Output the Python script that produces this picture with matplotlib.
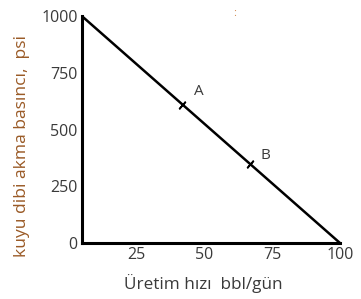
import matplotlib
matplotlib.use("Agg")
import matplotlib.pyplot as plt

# Data
q = [5, 100]          # production rate, bbl/gün
p = [1000, 0]         # bottomhole flowing pressure, psi
point_names = ["A", "B"]
point_q = [42, 67]
x_ticks = [25, 50, 75, 100]
y_ticks = [0, 250, 500, 750, 1000]

def p_at(qq):
    return p[0] + (p[1] - p[0]) * (qq - q[0]) / (q[1] - q[0])

point_p = [p_at(v) for v in point_q]
label_offsets = [(12, 9.5), (11, 6)]   # points

plt.rcParams['font.family'] = ['Open Sans', 'DejaVu Sans']
fig = plt.figure(figsize=(3.61, 2.99), dpi=100)
ax = fig.add_axes([0.227, 0.187, 0.715, 0.759])

ax.plot(q, p, color='black', lw=1.8, solid_capstyle='butt', clip_on=False)
ax.plot(point_q, point_p, linestyle='none', marker=(2, 2, -41), ms=7,
        mew=1.2, color='black', clip_on=False)
for name, qq, pp, off in zip(point_names, point_q, point_p, label_offsets):
    ax.annotate(name, (qq, pp), xytext=off, textcoords='offset points',
                fontsize=11, color='#3b3b3b', ha='center', va='center')

ax.set_xlim(q[0], q[1])
ax.set_ylim(0, 1000)
ax.set_xticks(x_ticks)
ax.set_yticks(y_ticks)
ax.tick_params(length=0, labelsize=11.5, labelcolor='#3a3a3a', pad=3)
for s in ['top', 'right']:
    ax.spines[s].set_visible(False)
for s in ['left', 'bottom']:
    ax.spines[s].set_linewidth(2.2)
    ax.spines[s].set_color('black')

ax.set_xlabel('Üretim hızı  bbl/gün', fontsize=12.3, color='#3a3a3a')
ax.xaxis.set_label_coords(0.47, -0.135)
ax.set_ylabel('kuyu dibi akma basıncı,  psi', fontsize=12.6, color='#9a5a26')
ax.yaxis.set_label_coords(-0.203, 0.43)

fig.text(0.651, 0.955, ':', color='#d08a50', fontsize=8, ha='center', va='center')

fig.savefig('out.png', dpi=100)
